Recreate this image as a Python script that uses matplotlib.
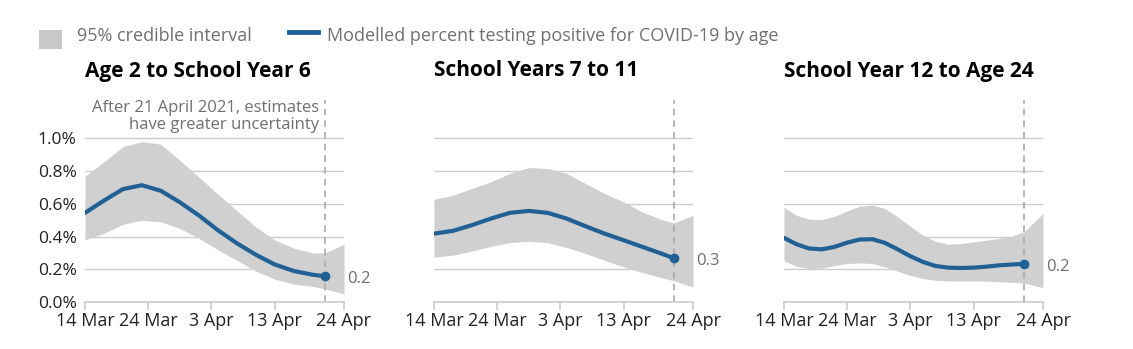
import matplotlib
matplotlib.use("Agg")
import matplotlib.pyplot as plt
import pandas as pd

plt.rcParams["font.family"] = ["Open Sans", "DejaVu Sans"]

# ---- data (percent testing positive) ----
TITLES = ["Age 2 to School Year 6", "School Years 7 to 11", "School Year 12 to Age 24"]
END_LABELS = ["0.2", "0.3", "0.2"]

DATES_A = ["2021-03-14", "2021-03-17", "2021-03-20", "2021-03-23", "2021-03-26",
           "2021-03-29", "2021-04-01", "2021-04-04", "2021-04-07", "2021-04-10",
           "2021-04-13", "2021-04-16", "2021-04-19", "2021-04-21", "2021-04-24"]
DATES_C = ["2021-03-14", "2021-03-16", "2021-03-18", "2021-03-20", "2021-03-22",
           "2021-03-24", "2021-03-26", "2021-03-28", "2021-03-30", "2021-04-01",
           "2021-04-03", "2021-04-05", "2021-04-07", "2021-04-09", "2021-04-11",
           "2021-04-13", "2021-04-15", "2021-04-17", "2021-04-19", "2021-04-21",
           "2021-04-24"]

# modelled estimate (ends 21 Apr), lower / upper credible bounds (end 24 Apr)
est_1 = [0.545, 0.62, 0.69, 0.714, 0.68, 0.61, 0.53, 0.44, 0.36, 0.29,
         0.23, 0.19, 0.167, 0.157]
low_1 = [0.38, 0.42, 0.475, 0.50, 0.49, 0.45, 0.39, 0.32, 0.255, 0.19,
         0.14, 0.11, 0.096, 0.08, 0.05]
upp_1 = [0.77, 0.857, 0.95, 0.98, 0.965, 0.867, 0.765, 0.66, 0.56, 0.46,
         0.38, 0.33, 0.30, 0.30, 0.353]

est_2 = [0.418, 0.435, 0.47, 0.51, 0.545, 0.557, 0.545, 0.51, 0.463, 0.418,
         0.378, 0.337, 0.296, 0.267]
low_2 = [0.275, 0.286, 0.312, 0.34, 0.363, 0.371, 0.363, 0.333, 0.296, 0.255,
         0.214, 0.18, 0.149, 0.129, 0.092]
upp_2 = [0.627, 0.653, 0.694, 0.735, 0.786, 0.822, 0.816, 0.786, 0.724, 0.663,
         0.612, 0.55, 0.504, 0.484, 0.53]

est_3 = [0.392, 0.353, 0.327, 0.322, 0.337, 0.363, 0.382, 0.384, 0.361, 0.322,
         0.28, 0.245, 0.22, 0.21, 0.208, 0.21, 0.216, 0.224, 0.229, 0.233]
low_3 = [0.251, 0.218, 0.204, 0.208, 0.222, 0.235, 0.239, 0.235, 0.214, 0.188,
         0.163, 0.143, 0.133, 0.129, 0.129, 0.129, 0.127, 0.124, 0.12, 0.116, 0.088]
upp_3 = [0.578, 0.53, 0.506, 0.504, 0.524, 0.557, 0.586, 0.592, 0.571, 0.52,
         0.463, 0.408, 0.371, 0.353, 0.357, 0.367, 0.378, 0.388, 0.402, 0.429, 0.541]

PANELS = [(DATES_A, est_1, low_1, upp_1),
          (DATES_A, est_2, low_2, upp_2),
          (DATES_C, est_3, low_3, upp_3)]

X_TICKS = ["2021-03-14", "2021-03-24", "2021-04-03", "2021-04-13", "2021-04-24"]
X_TICKLABELS = ["14 Mar", "24 Mar", "3 Apr", "13 Apr", "24 Apr"]
Y_TICKS = [0.0, 0.2, 0.4, 0.6, 0.8, 1.0]
CUTOFF = "2021-04-21"

BLUE = "#206095"
BAND = "#d0d0d0"
GRID = "#cccccc"
TEXT = "#707070"
DARK = "#222222"

W, H = 1133, 349
fig = plt.figure(figsize=(W / 100, H / 100), dpi=100)

lefts = [85, 434, 784]
ax_w = 259
ax_bottom, ax_top = 302, 100

for i, (dates, est, low, upp) in enumerate(PANELS):
    ax = fig.add_axes([lefts[i] / W, 1 - ax_bottom / H, ax_w / W, (ax_bottom - ax_top) / H])
    d = pd.to_datetime(dates)
    n = len(est)
    ax.fill_between(d, low, upp, color=BAND, lw=0, zorder=1)
    ax.plot(d[:n], est, color=BLUE, lw=3, solid_capstyle="round", zorder=3)
    ax.plot(d[n - 1], est[-1], "o", color=BLUE, ms=6, zorder=4)
    ax.annotate(END_LABELS[i], (d[n - 1], est[-1]), xytext=(16, -2),
                textcoords="offset points", color=TEXT, fontsize=12, va="center")

    for y in Y_TICKS[1:]:
        ax.axhline(y, color=GRID, lw=1, zorder=0)
    ax.axvline(pd.Timestamp(CUTOFF), color="#aaaaaa", lw=1.2, ls=(0, (4, 3)), zorder=2)

    ax.set_xlim(pd.Timestamp("2021-03-14"), pd.Timestamp("2021-04-24"))
    ax.set_ylim(0, 1.235)
    ax.set_xticks(pd.to_datetime(X_TICKS))
    ax.set_xticklabels(X_TICKLABELS)
    ax.tick_params(axis="x", length=6, color=GRID, width=1.2, labelsize=13,
                   labelcolor=DARK, pad=1)
    if i == 0:
        ax.set_yticks(Y_TICKS)
        ax.set_yticklabels([f"{v:.1f}%" for v in Y_TICKS])
        ax.tick_params(axis="y", length=0, labelsize=12.5, labelcolor=DARK, pad=6)
    else:
        ax.set_yticks([])
    for s in ["top", "right", "left"]:
        ax.spines[s].set_visible(False)
    ax.spines["bottom"].set_color(GRID)
    ax.spines["bottom"].set_linewidth(1.2)
    ax.patch.set_alpha(0)

    fig.text(lefts[i] / W, 1 - 71 / H, TITLES[i], fontsize=15, fontweight="bold",
             color="black", va="center", ha="left")

    if i == 0:
        ax.text(pd.Timestamp("2021-04-20"), 1.235, "After 21 April 2021, estimates\nhave greater uncertainty",
                ha="right", va="top", color=TEXT, fontsize=12, linespacing=1.05)

# legend
fig.patches.append(plt.Rectangle((39 / W, 1 - 49 / H), 23 / W, 19 / H,
                                 transform=fig.transFigure, color="#c8c8c8", lw=0))
fig.text(77 / W, 1 - 36 / H, "95% credible interval", fontsize=13, color=TEXT, va="center")
fig.lines.append(plt.Line2D([289 / W, 318 / W], [1 - 32 / H, 1 - 32 / H],
                            transform=fig.transFigure, color=BLUE, lw=3.5))
fig.text(327 / W, 1 - 36 / H, "Modelled percent testing positive for COVID-19 by age",
         fontsize=13, color=TEXT, va="center")

fig.savefig("out.png", dpi=100)
